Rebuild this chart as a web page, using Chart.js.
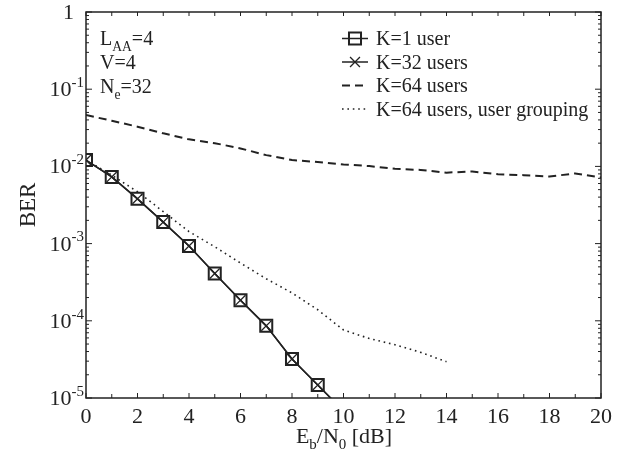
<!DOCTYPE html>
<html>
<head>
<meta charset="utf-8">
<script src="https://cdn.jsdelivr.net/npm/chart.js@4.4.1/dist/chart.umd.min.js"></script>
<style>
  html, body { margin: 0; padding: 0; background: #fff; }
  #wrap { width: 631px; height: 459px; }
</style>
</head>
<body>
<div id="wrap"><canvas id="berChart"></canvas></div>
<script>
// Eb/N0 in dB
const snrDb = [0, 1, 2, 3, 4, 5, 6, 7, 8, 9, 10, 11, 12, 13, 14, 15, 16, 17, 18, 19, 20];

// BER values
const berOneUser = [0.0121, 0.0073, 0.0038, 0.0019, 0.00093, 0.00041, 0.000185, 0.000086, 0.000032, 0.0000147, 0.0000068];
const berUsers32 = [0.0121, 0.0073, 0.0038, 0.0019, 0.00093, 0.00041, 0.000185, 0.000086, 0.000032, 0.0000147, 0.0000068];
const berUsers64 = [0.0463, 0.039, 0.0327, 0.0268, 0.0224, 0.020, 0.0171, 0.014, 0.0121, 0.0114, 0.0106,
                    0.0101, 0.0093, 0.0090, 0.0083, 0.0086, 0.0079, 0.0077, 0.0074, 0.0081, 0.0072];
const berUsers64Grouping = [0.0121, 0.0077, 0.0047, 0.0026, 0.00143, 0.00091, 0.00056, 0.00035, 0.00023,
                            0.000139, 0.000076, 0.000059, 0.000049, 0.000039, 0.0000295];

const seriesLabels = ['K=1 user', 'K=32 users', 'K=64 users', 'K=64 users, user grouping'];
const xTicks = [0, 2, 4, 6, 8, 10, 12, 14, 16, 18, 20];
const yDecades = [0, -1, -2, -3, -4, -5];

const INK = '#222';
const SERIF = '"Liberation Serif", "DejaVu Serif", serif';

function toPoints(values) {
    return values.map((v, i) => ({ x: snrDb[i], y: v }));
}

// text with sub/superscripts: parts = [[text, 0 | 1 (sup) | -1 (sub)], ...]
function richWidth(ctx, parts, fs) {
    let w = 0;
    parts.forEach(([t, m]) => {
        ctx.font = (m ? fs * 0.68 : fs) + 'px ' + SERIF;
        w += ctx.measureText(t).width;
    });
    return w;
}

function drawRich(ctx, parts, x, y, fs, align) {
    const w = richWidth(ctx, parts, fs);
    let cx = align === 'right' ? x - w : align === 'center' ? x - w / 2 : x;
    ctx.textAlign = 'left';
    ctx.textBaseline = 'alphabetic';
    parts.forEach(([t, m]) => {
        const size = m ? fs * 0.68 : fs;
        ctx.font = size + 'px ' + SERIF;
        const dy = m === 1 ? -fs * 0.42 : m === -1 ? fs * 0.28 : 0;
        ctx.fillText(t, cx, y + dy);
        cx += ctx.measureText(t).width;
    });
}

function drawMarker(ctx, style, r, x, y) {
    ctx.save();
    ctx.setLineDash([]);
    ctx.beginPath();
    if (style === 'rect') {
        const s = Math.SQRT1_2 * r;
        ctx.rect(x - s, y - s, 2 * s, 2 * s);
    } else if (style === 'crossRot') {
        const o = Math.SQRT1_2 * r;
        ctx.moveTo(x - o, y - o); ctx.lineTo(x + o, y + o);
        ctx.moveTo(x - o, y + o); ctx.lineTo(x + o, y - o);
    }
    ctx.stroke();
    ctx.restore();
}

const frameAndText = {
    id: 'frameAndText',
    afterDatasetsDraw(chart) {
        const ctx = chart.ctx;
        const area = chart.chartArea;
        const xs = chart.scales.x;
        const ys = chart.scales.y;
        ctx.save();
        ctx.strokeStyle = INK;
        ctx.fillStyle = INK;

        // frame
        ctx.lineWidth = 1.5;
        ctx.strokeRect(area.left, area.top, area.right - area.left, area.bottom - area.top);

        // x ticks (inward, bottom and top)
        ctx.lineWidth = 1;
        ctx.beginPath();
        for (let v = 0; v <= 20; v++) {
            const px = xs.getPixelForValue(v);
            const len = v % 2 === 0 ? 5 : 4;
            ctx.moveTo(px, area.bottom); ctx.lineTo(px, area.bottom - len);
            ctx.moveTo(px, area.top); ctx.lineTo(px, area.top + 4);
        }
        // y ticks (inward, left and right), decades plus minor 2..9
        yDecades.forEach(e => {
            const py = ys.getPixelForValue(Math.pow(10, e));
            ctx.moveTo(area.left, py); ctx.lineTo(area.left + 6, py);
            ctx.moveTo(area.right, py); ctx.lineTo(area.right - 6, py);
            if (e > -5) {
                for (let k = 2; k <= 9; k++) {
                    const pm = ys.getPixelForValue(k * Math.pow(10, e - 1));
                    ctx.moveTo(area.left, pm); ctx.lineTo(area.left + 3, pm);
                    ctx.moveTo(area.right, pm); ctx.lineTo(area.right - 3, pm);
                }
            }
        });
        ctx.stroke();

        // x tick labels
        ctx.font = '22px ' + SERIF;
        ctx.textAlign = 'center';
        ctx.textBaseline = 'alphabetic';
        xTicks.forEach(v => {
            ctx.fillText(String(v), xs.getPixelForValue(v), area.bottom + 25);
        });

        // y tick labels
        yDecades.forEach(e => {
            const py = ys.getPixelForValue(Math.pow(10, e));
            if (e === 0) {
                ctx.font = '22px ' + SERIF;
                ctx.textAlign = 'right';
                ctx.fillText('1', 74, py + 7);
            } else {
                drawRich(ctx, [['10', 0], ['-' + (-e), 1]], 84, py + 7, 22, 'right');
            }
        });

        // axis titles
        drawRich(ctx, [['E', 0], ['b', -1], ['/N', 0], ['0', -1], [' [dB]', 0]], 344, 443, 22, 'center');
        ctx.save();
        ctx.translate(35, (area.top + area.bottom) / 2);
        ctx.rotate(-Math.PI / 2);
        ctx.font = '23px ' + SERIF;
        ctx.textAlign = 'center';
        ctx.textBaseline = 'alphabetic';
        ctx.fillText('BER', 0, 0);
        ctx.restore();

        // parameter annotation
        drawRich(ctx, [['L', 0], ['AA', -1], ['=4', 0]], 100, 45, 20, 'left');
        drawRich(ctx, [['V=4', 0]], 100, 69, 20, 'left');
        drawRich(ctx, [['N', 0], ['e', -1], ['=32', 0]], 100, 93, 20, 'left');

        // legend
        chart.data.datasets.forEach((ds, i) => {
            const base = 45 + i * 23.5;
            const ly = base - 6.5;
            ctx.save();
            ctx.strokeStyle = ds.borderColor;
            ctx.lineWidth = ds.borderWidth;
            ctx.setLineDash(ds.borderDash || []);
            ctx.beginPath();
            ctx.moveTo(342, ly); ctx.lineTo(368, ly);
            ctx.stroke();
            if (ds.pointRadius && ds.pointStyle) {
                ctx.lineWidth = ds.pointBorderWidth;
                const r = Array.isArray(ds.pointRadius) ? ds.pointRadius[0] : ds.pointRadius;
                drawMarker(ctx, ds.pointStyle, r, 355, ly);
            }
            ctx.restore();
            ctx.fillStyle = INK;
            drawRich(ctx, [[ds.label, 0]], 376, base, 20, 'left');
        });

        ctx.restore();
    }
};

const markerRadius = berOneUser.map((v, i) => (i < 10 ? 8.5 : 0));
const crossRadius = berUsers32.map((v, i) => (i < 10 ? 7 : 0));

new Chart(document.getElementById('berChart').getContext('2d'), {
    type: 'line',
    data: {
        datasets: [
            {
                label: seriesLabels[0],
                data: toPoints(berOneUser),
                borderColor: INK,
                borderWidth: 1.5,
                pointStyle: 'rect',
                pointRadius: markerRadius,
                pointBorderWidth: 2,
                pointBorderColor: INK,
                pointBackgroundColor: 'rgba(0,0,0,0)'
            },
            {
                label: seriesLabels[1],
                data: toPoints(berUsers32),
                borderColor: INK,
                borderWidth: 1.5,
                pointStyle: 'crossRot',
                pointRadius: crossRadius,
                pointBorderWidth: 1.3,
                pointBorderColor: INK
            },
            {
                label: seriesLabels[2],
                data: toPoints(berUsers64),
                borderColor: INK,
                borderWidth: 2,
                borderDash: [8, 5],
                pointRadius: 0
            },
            {
                label: seriesLabels[3],
                data: toPoints(berUsers64Grouping),
                borderColor: INK,
                borderWidth: 1.6,
                borderDash: [1.6, 3.8],
                pointRadius: 0
            }
        ]
    },
    options: {
        responsive: true,
        maintainAspectRatio: false,
        animation: false,
        layout: {
            padding: { left: 86, right: 30, top: 12, bottom: 61 }
        },
        plugins: {
            legend: { display: false },
            tooltip: { enabled: false }
        },
        scales: {
            x: {
                type: 'linear',
                min: 0,
                max: 20,
                display: false
            },
            y: {
                type: 'logarithmic',
                min: 1e-5,
                max: 1,
                display: false
            }
        }
    },
    plugins: [frameAndText]
});
</script>
</body>
</html>
